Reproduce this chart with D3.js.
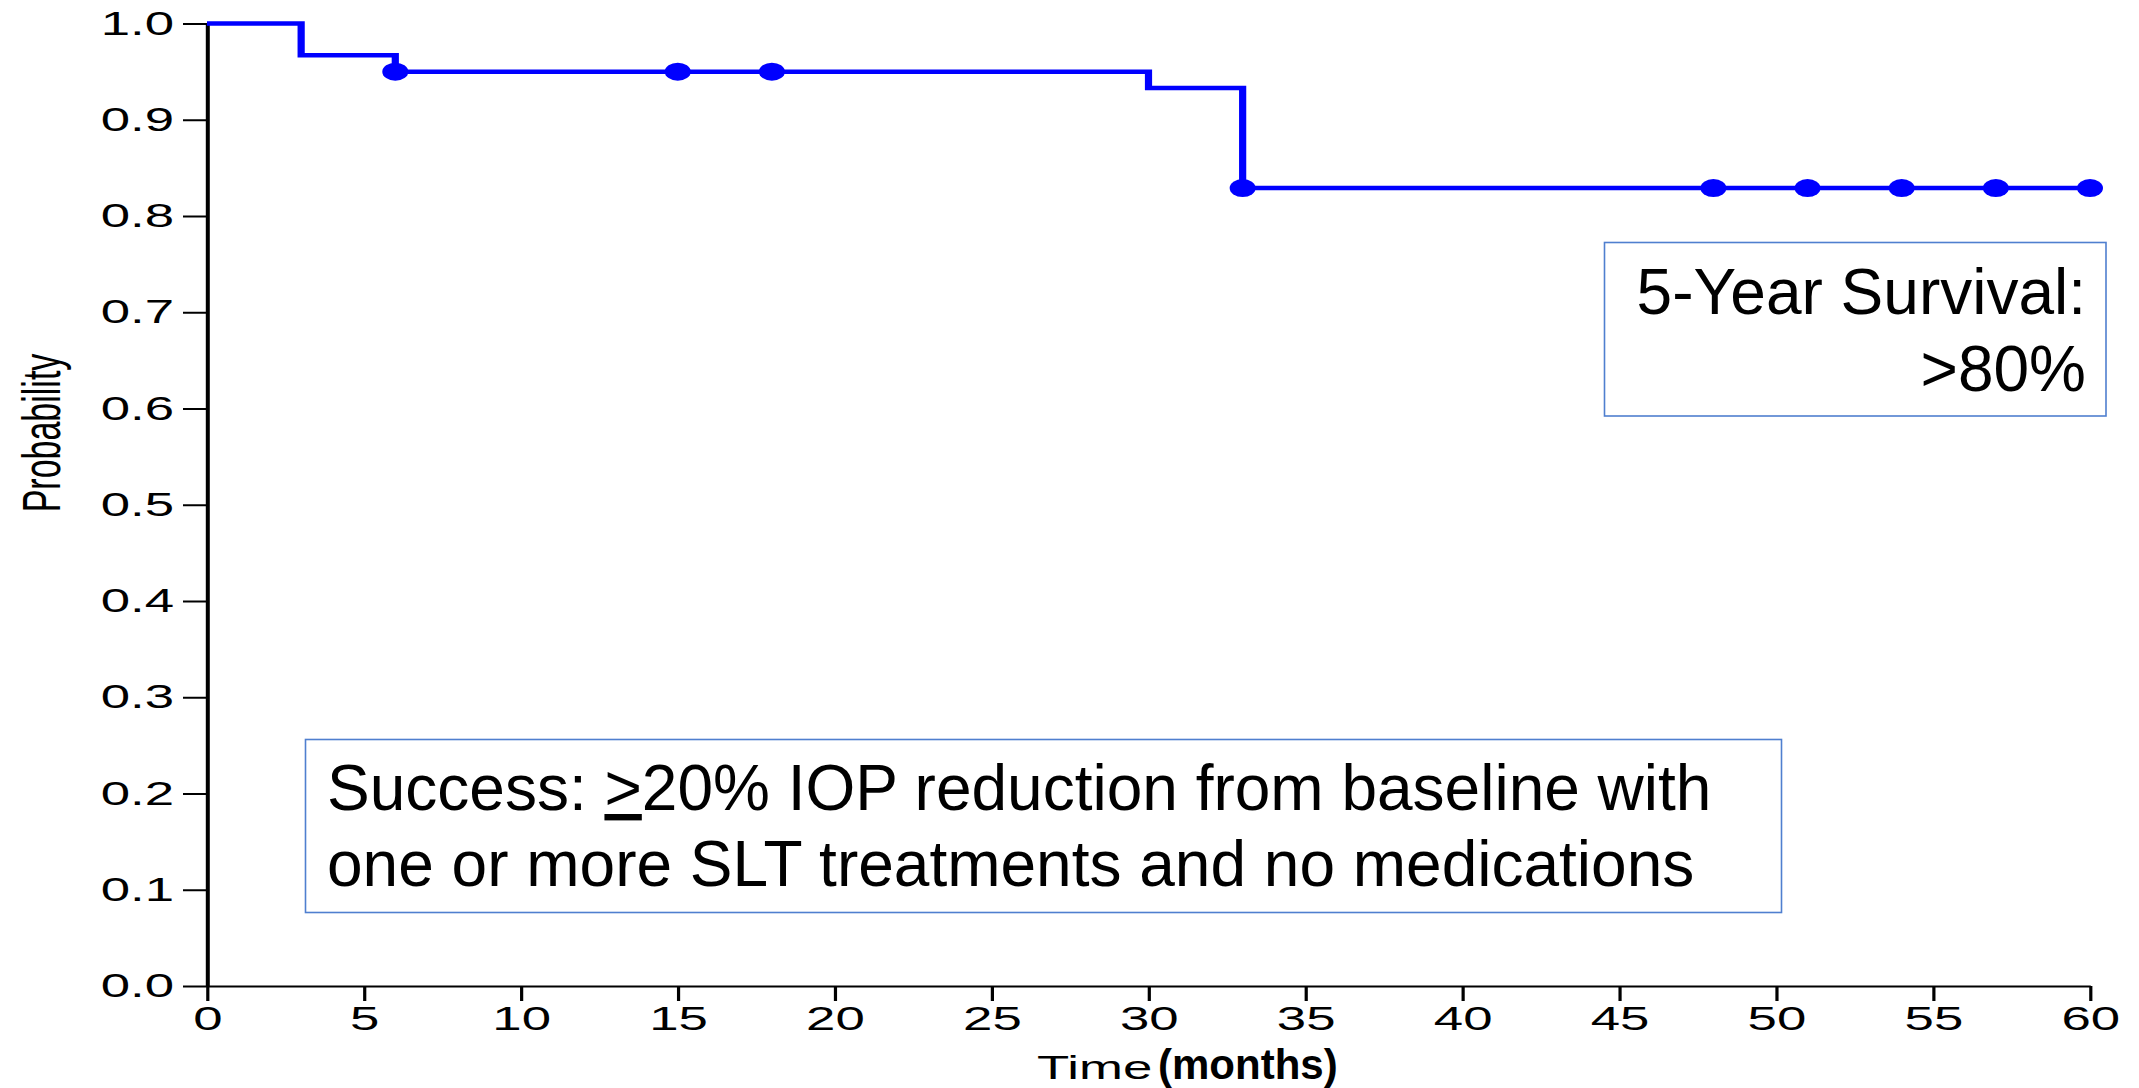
<!DOCTYPE html>
<html>
<head>
<meta charset="utf-8">
<script src="https://cdn.jsdelivr.net/npm/d3@7"></script>
<style>
  html, body { margin: 0; padding: 0; background: #fff; }
  svg { display: block; }
  text { font-family: "Liberation Sans", Arial, sans-serif; fill: #000; }
</style>
</head>
<body>
<svg id="chart" width="2139" height="1088"></svg>
<script>
// Kaplan-Meier survival estimate (time in months)
const stepTimes = [0, 3, 6, 30, 33, 60];
const stepSurvival = [1.0, 0.967, 0.950, 0.933, 0.829, 0.829];

// Censored observations (tick marks on the curve)
const censorTimes = [6, 15, 18, 33, 48, 51, 54, 57, 60];

// Axis ticks
const xTicks = [0, 5, 10, 15, 20, 25, 30, 35, 40, 45, 50, 55, 60];
const yTicks = [0.0, 0.1, 0.2, 0.3, 0.4, 0.5, 0.6, 0.7, 0.8, 0.9, 1.0];

// Annotation text
const survivalNote = ["5-Year Survival:", ">80%"];
const successNote = [
  ["Success: ", ">", "20% IOP reduction from baseline with"],
  ["one or more SLT treatments and no medications"]
];
const xLabel = ["Time", "(months)"];
const yLabel = "Probability";

// The plot is drawn horizontally stretched
const SX = 1.6;
const svg = d3.select("#chart");
svg.append("rect").attr("width", 2139).attr("height", 1088).attr("fill", "#fff");

const g = svg.append("g").attr("transform", `scale(${SX},1)`);

const x = d3.scaleLinear().domain([0, 60]).range([207 / SX, 2090 / SX]);
const y = d3.scaleLinear().domain([0, 1]).range([986, 23.5]);

// Axes
const yAxis = g.append("g")
  .attr("transform", `translate(${x(0)},0)`)
  .call(d3.axisLeft(y).tickValues(yTicks).tickFormat(d3.format(".1f"))
    .tickSize(15).tickSizeOuter(0).tickPadding(5.6));

const xAxis = g.append("g")
  .attr("transform", `translate(0,${y(0)})`)
  .call(d3.axisBottom(x).tickValues(xTicks).tickFormat(d3.format("d"))
    .tickSize(15).tickSizeOuter(0).tickPadding(5.6));

[yAxis, xAxis].forEach(a => {
  a.select(".domain").attr("stroke", "#000");
  a.selectAll(".tick line").attr("stroke", "#000").attr("stroke-width", 2);
  a.selectAll(".tick text")
    .attr("fill", "#000")
    .style("font-family", '"Liberation Sans", Arial, sans-serif')
    .style("font-size", "33px");
});
yAxis.select(".domain").attr("stroke-width", 2.5);
xAxis.select(".domain").attr("stroke-width", 2);

// Survival step curve
const pts = stepTimes.map((t, i) => [t, stepSurvival[i]]);
const line = d3.line()
  .x(d => x(d[0]))
  .y(d => y(d[1]))
  .curve(d3.curveStepAfter);

g.append("path")
  .datum(pts)
  .attr("d", line)
  .attr("fill", "none")
  .attr("stroke", "#0000ff")
  .attr("stroke-width", 4.5)
  .attr("stroke-linejoin", "miter");

// Survival value at a time (step function)
function survivalAt(t) {
  let s = stepSurvival[0];
  for (let i = 0; i < stepTimes.length; i++) {
    if (stepTimes[i] <= t) s = stepSurvival[i];
  }
  return s;
}

g.selectAll("ellipse.censor")
  .data(censorTimes)
  .join("ellipse")
  .attr("class", "censor")
  .attr("cx", d => x(d))
  .attr("cy", d => y(survivalAt(d)))
  .attr("rx", 13 / SX)
  .attr("ry", 9)
  .attr("fill", "#0000ff");

// Axis titles
g.append("text")
  .attr("transform", `translate(${60 / SX},433) rotate(-90)`)
  .attr("text-anchor", "middle")
  .style("font-size", "34px")
  .text(yLabel);

g.append("text")
  .attr("x", 1037 / SX)
  .attr("y", 1079)
  .style("font-size", "33px")
  .text(xLabel[0]);

svg.append("text")
  .attr("x", 1158)
  .attr("y", 1079)
  .style("font-size", "42px")
  .style("font-weight", "bold")
  .text(xLabel[1]);

// Annotation boxes
const boxColor = "#4f7fcf";

svg.append("rect")
  .attr("x", 1604.5).attr("y", 242.5)
  .attr("width", 501.5).attr("height", 173.5)
  .attr("fill", "#fff").attr("stroke", boxColor).attr("stroke-width", 1.6);

svg.selectAll("text.surv")
  .data(survivalNote)
  .join("text")
  .attr("class", "surv")
  .attr("x", 2086)
  .attr("y", (d, i) => 314 + i * 77)
  .attr("text-anchor", "end")
  .style("font-size", "64px")
  .text(d => d);

svg.append("rect")
  .attr("x", 305.5).attr("y", 739.5)
  .attr("width", 1476).attr("height", 173)
  .attr("fill", "#fff").attr("stroke", boxColor).attr("stroke-width", 1.6);

successNote.forEach((parts, i) => {
  const t = svg.append("text")
    .attr("x", 327)
    .attr("y", 810 + i * 76)
    .style("font-size", "64px")
    .attr("xml:space", "preserve")
    .style("white-space", "pre");
  parts.forEach((p, j) => {
    const ts = t.append("tspan").text(p);
    if (parts.length > 1 && j === 1) ts.style("text-decoration", "underline");
  });
});
</script>
</body>
</html>
